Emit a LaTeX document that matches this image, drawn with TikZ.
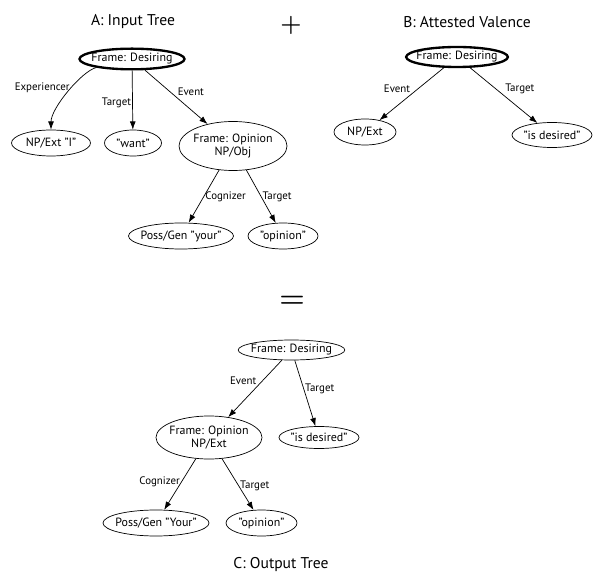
\documentclass[tikz,border=0pt]{standalone}
\usepackage{fontspec}
\setmainfont{PT Sans}
\usetikzlibrary{shapes.geometric,arrows.meta}

\begin{document}
\begin{tikzpicture}[x=0.03cm,y=0.03cm,->,>={Latex[length=7pt,width=5pt]},line width=0.6pt]
    \tikzstyle{oval}=[draw,ellipse,inner xsep=-8pt,inner ysep=0pt,minimum height=0.78cm,align=center,font=\fontsize{10.2}{11.5}\selectfont];
    \tikzstyle{root}=[oval,line width=2pt];
    \tikzstyle{lbl}=[inner sep=1pt,font=\fontsize{9.3}{10}\selectfont];
    \tikzstyle{title}=[inner sep=0pt,font=\fontsize{13.3}{15}\selectfont];
    \tikzstyle{sign}=[inner sep=0pt];

    \useasboundingbox (0,0) rectangle (594,-573);

    % A: input tree
    \node at (133, -22)  (ttlA) [title] {A: Input Tree};
    \node at (291, -25)  (plus) [sign,font=\fontsize{22}{22}\selectfont\boldmath] {$+$};
    \node at (132, -59)  (desA) [root,minimum width=3.15cm,minimum height=0.62cm] {Frame: Desiring};
    \node at (51, -143)  (npI) [oval,minimum width=2.37cm] {NP/Ext "I"};
    \node at (133, -143) (want) [oval,minimum width=1.71cm] {"want"};
    \node at (233, -146) (opA) [oval,minimum width=3.24cm,minimum height=1.47cm] {Frame: Opinion\\NP/Obj};
    \node at (181, -236) (possA) [oval,minimum width=3.15cm] {Poss/Gen "your"};
    \node at (283, -236) (opinA) [oval,minimum width=2.1cm] {"opinion"};

    \draw (desA) .. controls +(-50,-12) and +(0,35) .. node[lbl,pos=0.45,anchor=east] {Experiencer} (npI);
    \draw (desA) to node[lbl,left,pos=0.55] {Target} (want);
    \draw (desA) to node[lbl,above right,pos=0.5] {Event} (opA);
    \draw (opA) to node[lbl,right,pos=0.5] {Cognizer} (possA);
    \draw (opA) to node[lbl,right,pos=0.5] {Target} (opinA);

    % B: attested valence
    \node at (467, -22)  (ttlB) [title] {B: Attested Valence};
    \node at (457, -57)  (desB) [root,minimum width=3.05cm,minimum height=0.6cm] {Frame: Desiring};
    \node at (365, -132) (npB) [oval,minimum width=1.86cm] {NP/Ext};
    \node at (552, -135) (isdB) [oval,minimum width=2.4cm,minimum height=0.75cm] {"is desired"};

    \draw (desB) to node[lbl,above left,pos=0.5] {Event} (npB);
    \draw (desB) to node[lbl,above right,pos=0.5] {Target} (isdB);

    % C: output tree
    \node at (292, -302) (eq) [sign,font=\fontsize{28}{28}\selectfont\boldmath] {$=$};
    \node at (291.5, -350) (desC) [oval,minimum width=3.2cm,minimum height=0.6cm] {Frame: Desiring};
    \node at (209, -437.5) (opC) [oval,minimum width=3.18cm,minimum height=1.29cm] {Frame: Opinion\\NP/Ext};
    \node at (319, -437.5) (isdC) [oval,minimum width=2.4cm,minimum height=0.66cm] {"is desired"};
    \node at (156, -523) (possC) [oval,minimum width=3.18cm] {Poss/Gen "Your"};
    \node at (261.5, -523) (opinC) [oval,minimum width=2.13cm] {"opinion"};
    \node at (281, -565) (ttlC) [title] {C: Output Tree};

    \draw (desC) to node[lbl,above left,pos=0.45] {Event} (opC);
    \draw (desC) to node[lbl,right,pos=0.43] {Target} (isdC);
    \draw (opC) to node[lbl,left,pos=0.46] {Cognizer} (possC);
    \draw (opC) to node[lbl,right,pos=0.53] {Target} (opinC);
\end{tikzpicture}
\end{document}
